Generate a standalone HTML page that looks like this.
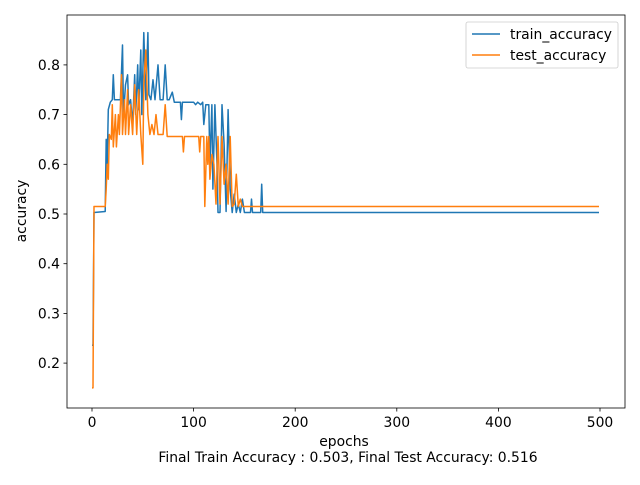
<!DOCTYPE html>
<html><head><meta charset="utf-8"><style>
body{margin:0;background:#fff}
svg text{font-family:"DejaVu Sans","Liberation Sans",sans-serif;fill:#000}
</style></head><body>
<svg width="640" height="480" viewBox="0 0 640 480" xmlns="http://www.w3.org/2000/svg">
<g id="plot"></g>
</svg>
<script>
const xTicks=[0,100,200,300,400,500];
const yTicks=[0.2,0.3,0.4,0.5,0.6,0.7,0.8];
const trainEpochs=[0,1,2,13,14,15,16,18,20,21,22,25,28,30,31,33,35,36,38,40,42,43,45,46,48,49,51,53,55,56,58,60,62,65,67,70,72,74,76,79,81,87,88,89,100,102,104,107,109,110,112,115,116,118,119,121,123,124,126,128,130,132,134,136,138,140,142,144,146,148,150,156,157,158,166,167,168,499];
const trainAcc=[0.236,0.236,0.503,0.505,0.65,0.6,0.71,0.725,0.73,0.78,0.73,0.73,0.73,0.84,0.7,0.76,0.78,0.72,0.73,0.68,0.78,0.7,0.8,0.71,0.83,0.7,0.865,0.73,0.865,0.74,0.73,0.77,0.73,0.8,0.73,0.73,0.8,0.73,0.73,0.745,0.725,0.725,0.69,0.725,0.725,0.72,0.725,0.72,0.725,0.68,0.72,0.72,0.6,0.72,0.55,0.72,0.6,0.503,0.503,0.72,0.64,0.505,0.71,0.55,0.503,0.54,0.503,0.52,0.503,0.53,0.503,0.503,0.53,0.503,0.503,0.56,0.503,0.503];
const testEpochs=[0,1,2,13,14,15,16,17,19,20,21,23,24,26,27,29,30,32,33,35,36,38,40,42,44,46,48,50,51,53,55,57,59,61,63,65,70,72,74,89,90,91,105,106,107,110,111,113,114,115,116,118,120,122,124,126,128,130,132,134,136,138,140,142,144,146,148,499];
const testAcc=[0.15,0.15,0.515,0.515,0.55,0.6,0.57,0.66,0.65,0.72,0.635,0.7,0.635,0.7,0.66,0.78,0.66,0.73,0.66,0.75,0.66,0.72,0.66,0.76,0.66,0.75,0.66,0.6,0.76,0.83,0.7,0.66,0.68,0.66,0.7,0.66,0.66,0.72,0.656,0.656,0.625,0.656,0.656,0.625,0.656,0.656,0.515,0.656,0.6,0.656,0.57,0.62,0.6,0.52,0.656,0.52,0.656,0.56,0.6,0.52,0.656,0.515,0.52,0.58,0.515,0.53,0.515,0.515];

const NS="http://www.w3.org/2000/svg";
const g=document.getElementById('plot');
const L=67,R=625,T=15,B=408;
const FS=13.9;
const sx=e=>92+e*1.016;
const sy=v=>214-(v-0.5)*497;
function mk(tag,attrs,text){const el=document.createElementNS(NS,tag);for(const k in attrs)el.setAttribute(k,attrs[k]);if(text!==undefined)el.textContent=text;g.appendChild(el);return el;}

function line(xs,ys,color,name){
  const d=xs.map((e,i)=>(i?'L':'M')+sx(e).toFixed(1)+','+sy(ys[i]).toFixed(1)).join(' ');
  const p=mk('path',{d:d,fill:'none',stroke:color,'stroke-width':1.5,'stroke-linejoin':'round'});
  
  
}
line(trainEpochs,trainAcc,'#1f77b4','train-accuracy-line');
line(testEpochs,testAcc,'#ff7f0e','test-accuracy-line');

const frame=mk('rect',{x:L,y:T,width:R-L,height:B-T,fill:'none',stroke:'#000','stroke-width':0.8});



xTicks.forEach(t=>{
  mk('line',{x1:sx(t),x2:sx(t),y1:B,y2:B+3.5,stroke:'#000','stroke-width':0.8});
  const tx=mk('text',{x:sx(t),y:B+19,'text-anchor':'middle','font-size':FS},String(t));
  
  
});
yTicks.forEach(t=>{
  mk('line',{x1:L-3.5,x2:L,y1:sy(t),y2:sy(t),stroke:'#000','stroke-width':0.8});
  const tx=mk('text',{x:L-7,y:sy(t)+5,'text-anchor':'end','font-size':FS},t.toFixed(1));
  
  
});
const xl=mk('text',{x:344,y:446,'text-anchor':'middle','font-size':FS},'epochs');


const xl2=mk('text',{x:348,y:462,'text-anchor':'middle','font-size':FS},'Final Train Accuracy : 0.503, Final Test Accuracy: 0.516');


const yl=mk('text',{x:26,y:211,'text-anchor':'middle','font-size':FS,transform:'rotate(-90 26 211)'},'accuracy');



const lg=mk('rect',{x:466,y:22,width:152,height:46,rx:2,fill:'#fff','fill-opacity':0.8,stroke:'#ccc','stroke-width':0.8});


[['train_accuracy','#1f77b4',34],['test_accuracy','#ff7f0e',55]].forEach(([n,c,y])=>{
  mk('line',{x1:472,x2:500,y1:y,y2:y,stroke:c,'stroke-width':1.5});
  const t=mk('text',{x:510,y:y+5,'font-size':FS},n);
  
  
});
</script>
</body></html>
